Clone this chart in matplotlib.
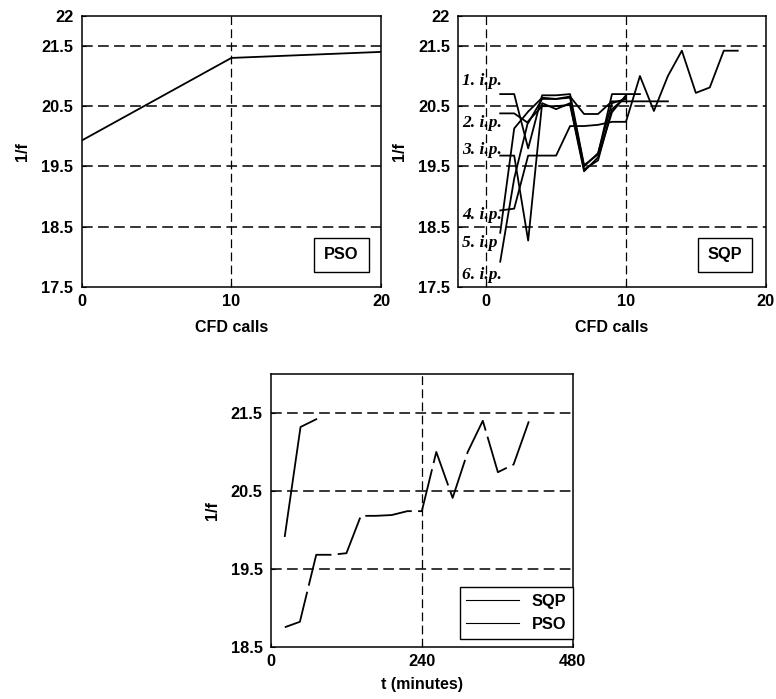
import matplotlib
matplotlib.use('Agg')
from matplotlib import pyplot as plt

plt.rcParams['font.family'] = ['Liberation Sans', 'DejaVu Sans']
plt.rcParams['font.weight'] = 'bold'
plt.rcParams['font.size'] = 11.5

# PSO, objective vs CFD calls
pso_calls = [0, 10, 20]
pso_f = [19.93, 21.30, 21.40]

# SQP, one run per initial point (CFD call 1, 2, ...)
sqp_runs = [
    [20.70, 20.70, 19.80, 20.68, 20.68, 20.70, 19.52, 19.70, 20.70, 20.70, 20.70],
    [20.38, 20.38, 20.22, 20.62, 20.62, 20.66, 20.37, 20.37, 20.58, 20.58, 20.58, 20.58, 20.58],
    [19.68, 19.68, 18.27, 20.55, 20.45, 20.55, 19.45, 19.60, 20.45, 20.65],
    [18.77, 18.80, 19.68, 19.68, 19.68, 20.17, 20.17, 20.19, 20.24, 20.24,
     21.00, 20.42, 21.00, 21.42, 20.72, 20.81, 21.42, 21.42],
    [18.40, 20.13, 20.41, 20.64, 20.62, 20.64, 19.50, 19.72, 20.55, 20.62],
    [17.92, 19.30, 20.25, 20.50, 20.50, 20.52, 19.42, 19.65, 20.40, 20.68],
]
ip_labels = ['1. i.p.', '2. i.p.', '3. i.p.', '4. i.p.', '5. i.p', '6. i.p.']
ip_label_y = [20.91, 20.22, 19.77, 18.70, 18.23, 17.70]

# objective vs wall clock time
t_sqp = [22, 46, 72, 96, 120, 143, 167, 192, 217, 240, 263, 289, 313, 337, 361, 386, 411]
f_sqp = [18.75, 18.82, 19.68, 19.68, 19.70, 20.18, 20.18, 20.19, 20.24, 20.24,
         21.00, 20.41, 21.00, 21.40, 20.74, 20.84, 21.41]
t_pso = [22, 47, 72]
f_pso = [19.92, 21.32, 21.42]

grid_ls = (0, (7, 3.5))


def style(ax):
    for s in ax.spines.values():
        s.set_linewidth(1.1)
    ax.tick_params(direction='in', length=3, width=0.8, labelsize=11.8)
    ax.tick_params(axis='y', pad=6)
    ax.tick_params(axis='x', pad=5)


def tag(ax, txt):
    ax.text(0.868, 0.118, txt, transform=ax.transAxes, ha='center', va='center',
            fontsize=11.8, fontweight='bold',
            bbox=dict(boxstyle='square,pad=0.6', fc='white', ec='black', lw=1.0))


fig = plt.figure(figsize=(7.76, 6.99), dpi=100)

# top left: PSO
ax1 = fig.add_axes([0.1053, 0.5894, 0.3857, 0.3881])
ax1.plot(pso_calls, pso_f, color='black', lw=1.3)
ax1.set_xlim(0, 20)
ax1.set_ylim(17.5, 22)
ax1.set_xticks([0, 10, 20])
ax1.set_yticks([17.5, 18.5, 19.5, 20.5, 21.5, 22])
ax1.set_yticklabels(['17.5', '18.5', '19.5', '20.5', '21.5', '22'])
for y in [18.5, 19.5, 20.5, 21.5]:
    ax1.axhline(y, color='black', lw=1.1, ls=grid_ls, zorder=0)
ax1.axvline(10, color='black', lw=0.9, ls=grid_ls, zorder=0)
ax1.set_xlabel('CFD calls', fontweight='bold', labelpad=8)
ax1.set_ylabel('1/f', fontweight='bold', labelpad=8)
style(ax1)
tag(ax1, 'PSO')

# top right: SQP
ax2 = fig.add_axes([0.5906, 0.5894, 0.3961, 0.3881])
for run in sqp_runs:
    ax2.plot(range(1, len(run) + 1), run, color='black', lw=1.3)
for lbl, y in zip(ip_labels, ip_label_y):
    ax2.text(-1.75, y, lbl, ha='left', va='center', fontsize=12.5,
             family='Liberation Serif', style='italic', fontweight='bold')
ax2.set_xlim(-2, 20)
ax2.set_ylim(17.5, 22)
ax2.set_xticks([0, 10, 20])
ax2.set_yticks([17.5, 18.5, 19.5, 20.5, 21.5, 22])
ax2.set_yticklabels(['17.5', '18.5', '19.5', '20.5', '21.5', '22'])
for y in [18.5, 19.5, 20.5, 21.5]:
    ax2.axhline(y, color='black', lw=1.1, ls=grid_ls, zorder=0)
for x in [0, 10]:
    ax2.axvline(x, color='black', lw=0.9, ls=grid_ls, zorder=0)
ax2.set_xlabel('CFD calls', fontweight='bold', labelpad=8)
ax2.set_ylabel('1/f', fontweight='bold', labelpad=8)
style(ax2)
tag(ax2, 'SQP')

# bottom: vs time
ax3 = fig.add_axes([0.3492, 0.0748, 0.3888, 0.3901])
ax3.plot(t_sqp, f_sqp, color='black', lw=1.3, ls=(0, (26, 3.5)), label='SQP')
ax3.plot(t_pso, f_pso, color='black', lw=1.3, label='PSO')
ax3.set_xlim(0, 480)
ax3.set_ylim(18.5, 22)
ax3.set_xticks([0, 240, 480])
ax3.set_yticks([18.5, 19.5, 20.5, 21.5])
for y in [19.5, 20.5, 21.5]:
    ax3.axhline(y, color='black', lw=1.1, ls=grid_ls, zorder=0)
ax3.axvline(240, color='black', lw=0.9, ls=grid_ls, zorder=0)
ax3.set_xlabel('t (minutes)', fontweight='bold', labelpad=6)
ax3.set_ylabel('1/f', fontweight='bold', labelpad=8)
style(ax3)
leg = ax3.legend(loc='lower right', bbox_to_anchor=(1.0, 0.03), borderaxespad=0,
                 fancybox=False, edgecolor='black', framealpha=1,
                 handlelength=3.2, prop={'weight': 'bold', 'size': 11.8})
leg.get_frame().set_linewidth(1.0)
for ln in leg.get_lines():
    ln.set_linestyle('-')
    ln.set_linewidth(0.8)

fig.savefig('out.png', dpi=100)
